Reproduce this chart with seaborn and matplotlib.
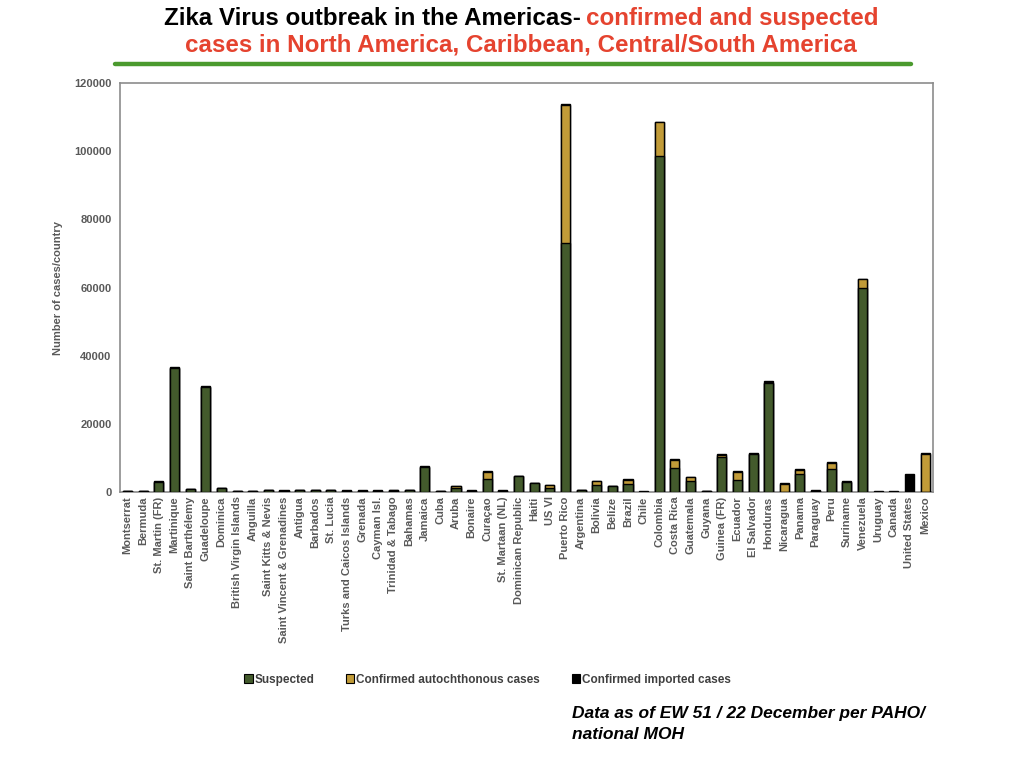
import matplotlib
matplotlib.use("Agg")
import matplotlib.pyplot as plt
import seaborn as sns
import pandas as pd
import numpy as np
from matplotlib.patches import Patch
from matplotlib.lines import Line2D

countries = [
    "Montserrat", "Bermuda", "St. Martin (FR)", "Martinique", "Saint Barthélemy",
    "Guadeloupe", "Dominica", "British Virgin Islands", "Anguilla", "Saint Kitts & Nevis",
    "Saint Vincent & Grenadines", "Antigua", "Barbados", "St. Lucia",
    "Turks and Caicos Islands", "Grenada", "Cayman Isl.", "Trinidad & Tabago", "Bahamas",
    "Jamaica", "Cuba", "Aruba", "Bonaire", "Curaçao", "St. Martaan (NL)",
    "Dominican Republic", "Haiti", "US VI", "Puerto Rico", "Argentina", "Bolivia",
    "Belize", "Brazil", "Chile", "Colombia", "Costa Rica", "Guatemala", "Guyana",
    "Guinea (FR)", "Ecuador", "El Salvador", "Honduras", "Nicaragua", "Panama",
    "Paraguay", "Peru", "Suriname", "Venezuela", "Uruguay", "Canada",
    "United States", "Mexico",
]
suspected = [
    250, 250, 3000, 36400, 900, 30800, 1200, 300, 250, 550,
    400, 600, 550, 550, 400, 400, 400, 500, 600, 7500,
    250, 1300, 400, 3900, 400, 4700, 2600, 1300, 73000, 550,
    2000, 1700, 2500, 0, 98700, 7200, 3200, 250, 10200, 3700,
    11300, 32000, 0, 5300, 500, 6900, 2900, 59900, 0, 0,
    0, 0,
]
confirmed_autochthonous = [
    0, 0, 0, 0, 0, 100, 0, 0, 0, 0,
    0, 0, 0, 0, 0, 0, 0, 100, 0, 0,
    100, 400, 0, 2100, 0, 0, 0, 700, 40500, 0,
    1200, 0, 1000, 0, 9800, 2400, 1200, 0, 600, 2300,
    0, 100, 2500, 1200, 0, 1700, 100, 2500, 0, 0,
    0, 11300,
]
confirmed_imported = [
    100, 100, 200, 300, 200, 200, 200, 150, 100, 200,
    150, 200, 200, 200, 150, 150, 150, 200, 200, 200,
    100, 200, 150, 200, 150, 200, 200, 200, 300, 200,
    200, 200, 300, 400, 100, 300, 200, 150, 400, 200,
    300, 400, 200, 200, 300, 300, 200, 200, 400, 400,
    5300, 300,
]
series_labels = ["Suspected", "Confirmed autochthonous cases", "Confirmed imported cases"]
y_ticks = [0, 20000, 40000, 60000, 80000, 100000, 120000]

GREEN = "#435a2c"
GOLD = "#c19b38"
BLACK = "#000000"
GRAY = "#595959"

df = pd.DataFrame({
    "country": countries,
    "s": suspected,
    "c": confirmed_autochthonous,
    "i": confirmed_imported,
})
df["sc"] = df["s"] + df["c"]
df["total"] = df["sc"] + df["i"]

sns.set_theme(style="white")
plt.rcParams["font.family"] = ["Liberation Sans", "DejaVu Sans"]

fig = plt.figure(figsize=(10.24, 7.68), dpi=100)
ax = fig.add_axes([0.117, 0.359, 0.794, 0.533])

common = dict(data=df, x="country", order=countries, ax=ax, width=0.58,
              edgecolor="black", linewidth=1.0, saturation=1)
sns.barplot(y="total", color=BLACK, **common)
sns.barplot(y="sc", color=GOLD, **common)
sns.barplot(y="s", color=GREEN, **common)

ax.set_ylim(0, 120000)
ax.set_xlim(-0.5, len(countries) - 0.5)
ax.set_yticks(y_ticks)
ax.set_yticklabels([str(v) for v in y_ticks])
ax.set_xlabel("")
ax.set_ylabel("Number of cases/country", fontsize=8, fontweight="bold", color=GRAY, labelpad=8)
ax.tick_params(axis="both", length=0, labelsize=8, colors=GRAY, pad=6)
ax.tick_params(axis="x", pad=3)
for lab in ax.get_xticklabels():
    lab.set_rotation(90)
    lab.set_fontweight("bold")
    lab.set_ha("center")
    lab.set_va("top")
for lab in ax.get_yticklabels():
    lab.set_fontweight("bold")
for sp in ax.spines.values():
    sp.set_visible(True)
    sp.set_color("#8c8c8c")
    sp.set_linewidth(1.2)
    sp.set_zorder(0.5)

handles = [Patch(facecolor=GREEN, edgecolor="black", linewidth=0.8),
           Patch(facecolor=GOLD, edgecolor="black", linewidth=0.8),
           Patch(facecolor=BLACK, edgecolor="black", linewidth=0.8)]
leg = fig.legend(handles, series_labels, loc="center", bbox_to_anchor=(0.476, 0.115),
                 ncol=3, frameon=False, handlelength=0.7, handleheight=0.7,
                 handletextpad=0.15, columnspacing=2.7,
                 prop={"size": 8.5, "weight": "bold"})
for t in leg.get_texts():
    t.set_color("#404040")

# Title (two colours)
title_fam = ["Liberation Sans", "DejaVu Sans"]
fig.text(0.567, 0.976, "Zika Virus outbreak in the Americas-", ha="right", va="center",
         fontsize=17.4, fontweight="bold", color="black", family=title_fam)
fig.text(0.5725, 0.976, "confirmed and suspected", ha="left", va="center",
         fontsize=17.4, fontweight="bold", color="#e5432f", family=title_fam)
fig.text(0.509, 0.941, "cases in North America, Caribbean, Central/South America",
         ha="center", va="center", fontsize=17.4, fontweight="bold", color="#e5432f",
         family=title_fam)
fig.add_artist(Line2D([0.112, 0.89], [0.917, 0.917], transform=fig.transFigure,
                      color="#4b9a2e", linewidth=3.2))

fig.text(0.559, 0.0805, "Data as of EW 51 / 22 December per PAHO/\nnational MOH",
         ha="left", va="top", fontsize=12.5, fontweight="bold", fontstyle="italic",
         color="black", linespacing=1.45)

fig.savefig("out.png", dpi=100)
